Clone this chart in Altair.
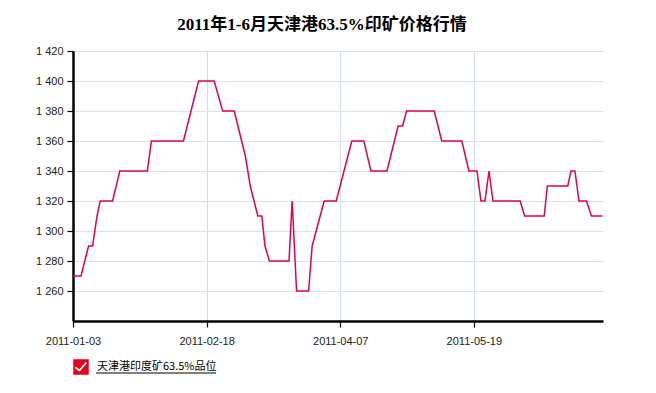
import altair as alt
import pandas as pd

# ---- data ----
# position along the trading-day axis and the price (yuan/ton) at each turning point
day_index = [0, 1.8, 3.5, 4.4, 5.4, 6.1, 8.9, 10.5, 16.7, 17.6, 24.8, 28.2, 31.7,
             33.6, 36.2, 38.7, 39.8, 41.5, 42.4, 43.1, 44.1, 48.5, 49.2, 50.2, 52.9,
             53.7, 56.4, 59.1, 62.6, 65.3, 66.9, 70.5, 73.0, 74.0, 74.9, 81.1, 82.8,
             87.3, 88.9, 90.7, 91.6, 92.5, 93.4, 94.3, 100.4, 101.4, 105.8, 106.5,
             111.1, 111.8, 112.7, 113.6, 115.3, 116.4, 118.9]
price = [1270, 1270, 1290, 1290, 1310, 1320, 1320, 1340, 1340, 1360, 1360, 1400, 1400,
         1380, 1380, 1350, 1330, 1310, 1310, 1290, 1280, 1280, 1320, 1260, 1260,
         1290, 1320, 1320, 1360, 1360, 1340, 1340, 1370, 1370, 1380, 1380, 1360,
         1360, 1340, 1340, 1320, 1320, 1340, 1320, 1320, 1310, 1310, 1330,
         1330, 1340, 1340, 1320, 1320, 1310, 1310]

tick_positions = [0, 30, 60, 90]
tick_labels = ["2011-01-03", "2011-02-18", "2011-04-07", "2011-05-19"]
y_ticks = [1260, 1280, 1300, 1320, 1340, 1360, 1380, 1400, 1420]

series_name = "天津港印度矿63.5%品位"
title_text = "2011年1-6月天津港63.5%印矿价格行情"

df = pd.DataFrame({"idx": day_index, "price": price, "series": series_name})

label_expr = " : ".join(
    [f"datum.value == {p} ? '{l}'" for p, l in zip(tick_positions, tick_labels)]
) + " : ''"

LINE_COLOR = "#E3004F"

# checkbox symbol: square with a check-shaped hole
check_path = ("M-1,-1 L1,-1 L1,1 L-1,1 Z "
              "M-0.7,-0.05 L-0.8,0.12 L-0.2,0.62 L0.75,-0.48 L0.62,-0.68 L-0.2,0.3 Z")

line = alt.Chart(df).mark_line(strokeWidth=1.5, clip=False).encode(
    x=alt.X("idx:Q",
            scale=alt.Scale(domain=[0, 119], nice=False, zero=False),
            axis=alt.Axis(values=tick_positions, labelExpr=label_expr, title=None,
                          grid=True, gridColor="#D3E0E0", gridWidth=1,
                          domainColor="#000000", domainWidth=2.5,
                          tickColor="#000000", tickSize=6, tickWidth=1.2,
                          labelFont="Liberation Sans", labelFontSize=11,
                          labelColor="#222222", labelPadding=8, labelFlush=False)),
    y=alt.Y("price:Q",
            scale=alt.Scale(domain=[1240, 1420], nice=False, zero=False),
            axis=alt.Axis(values=y_ticks,
                          labelExpr="replace(format(datum.value, ','), ',', ' ')",
                          title=None, grid=True, gridColor="#DDE3E3", gridWidth=1,
                          domainColor="#000000", domainWidth=2.5,
                          tickColor="#000000", tickSize=6, tickWidth=1.2,
                          labelFont="Liberation Sans", labelFontSize=11,
                          labelColor="#222222", labelPadding=4)),
    color=alt.Color("series:N",
                    scale=alt.Scale(domain=[series_name], range=[LINE_COLOR]),
                    legend=alt.Legend(title=None, orient="none", legendX=0, legendY=308,
                                      symbolType=check_path, symbolSize=240,
                                      symbolFillColor="#E3001B", symbolStrokeWidth=0,
                                      symbolOpacity=1,
                                      labelFont="Noto Sans CJK SC", labelFontSize=11,
                                      labelColor="#000000", labelOffset=8, padding=0)),
)

underline = alt.Chart(pd.DataFrame({"a": [0]})).mark_rule(
    color="#000000", strokeWidth=1
).encode(x=alt.value(23), x2=alt.value(143), y=alt.value(322))

chart = alt.layer(line, underline).properties(
    width=530, height=270,
    padding={"left": 73, "top": 51, "right": 53, "bottom": 72},
    autosize=alt.AutoSizeParams(type="none"),
    title=alt.TitleParams(title_text, font="Liberation Serif, Noto Sans CJK SC",
                          fontSize=17, fontWeight="bold", color="#000000",
                          anchor="middle", dx=-16, offset=11),
).configure_view(stroke=None)

chart.save("out.html", embed_options={"renderer": "svg", "actions": False})
